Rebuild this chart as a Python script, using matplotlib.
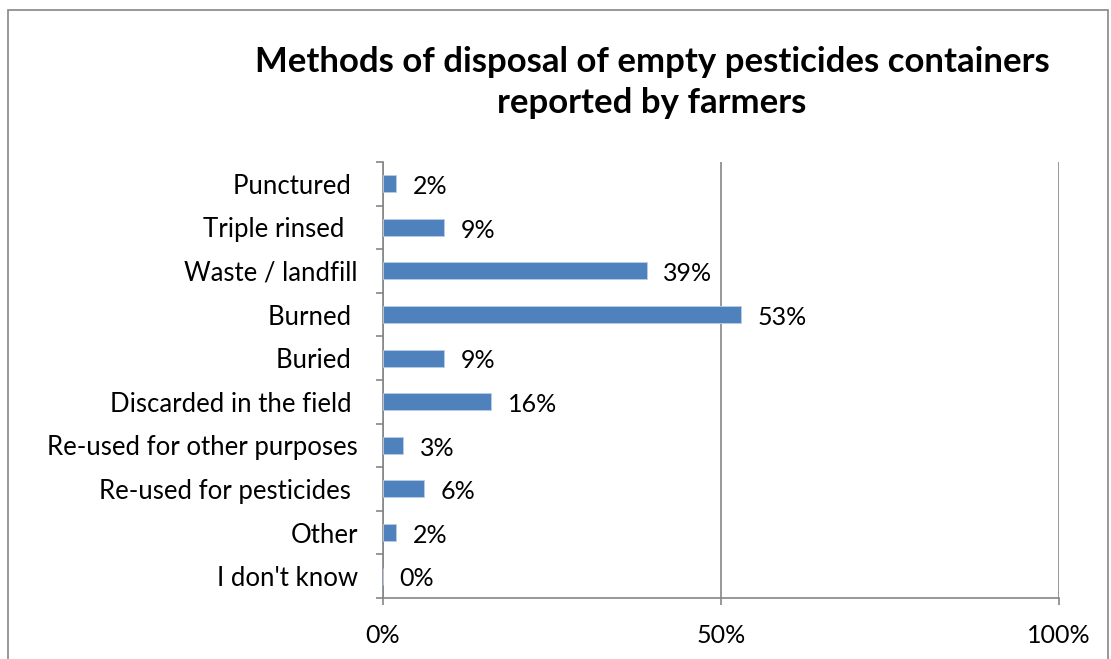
import matplotlib.pyplot as plt
from matplotlib.patches import Rectangle

plt.rcParams['font.family'] = ['Lato', 'DejaVu Sans']

# survey answers, top to bottom
methods = ["Punctured ", "Triple rinsed  ", "Waste / landfill", "Burned ", "Buried ",
           "Discarded in the field ", "Re-used for other purposes",
           "Re-used for pesticides ", "Other", "I don't know"]
shares = [2, 9, 39, 53, 9, 16, 3, 6, 2, 0]
x_ticks = [0, 50, 100]
x_tick_labels = ["0%", "50%", "100%"]

fig = plt.figure(figsize=(11.11, 6.59), dpi=100)
ax = fig.add_axes([0.3447, 0.0926, 0.6085, 0.6616])

pos = list(range(len(methods)))
ax.barh(pos, shares, height=0.39, color='#4F81BD', edgecolor='#B9CDE5', linewidth=0.6, zorder=3)
for p, v in zip(pos, shares):
    ax.annotate(f"{v}%", (v, p), xytext=(12, -2), textcoords='offset points',
                va='center', ha='left', fontsize=18, color='black')

ax.set_ylim(len(methods) - 0.5, -0.5)
ax.set_xlim(0, 100)
ax.set_yticks(pos)
ax.set_yticklabels(methods, fontsize=18.5)
ax.set_yticks([p + 0.5 for p in range(-1, len(methods))], minor=True)
ax.tick_params(axis='y', which='major', length=0, pad=18)
ax.tick_params(axis='y', which='minor', length=5, width=1.2, color='#868686', direction='out')
ax.set_xticks(x_ticks)
ax.set_xticklabels(x_tick_labels, fontsize=18)
ax.tick_params(axis='x', length=5, width=1.2, color='#868686', pad=14)

ax.grid(axis='x', color='#868686', linewidth=1.2, zorder=0)
for side in ['top', 'right']:
    ax.spines[side].set_visible(False)
for side in ['left', 'bottom']:
    ax.spines[side].set_color('#868686')
    ax.spines[side].set_linewidth(1.2)

fig.text(0.587, 0.875, "Methods of disposal of empty pesticides containers\nreported by farmers",
         ha='center', va='center', fontsize=25, fontweight='bold', linespacing=1.33)

# chart frame
fig.patches.append(Rectangle((0.0072, -0.05), 0.99, 1.035, transform=fig.transFigure,
                             fill=False, edgecolor='#868686', linewidth=1.2))

plt.savefig('out.png', dpi=100)
